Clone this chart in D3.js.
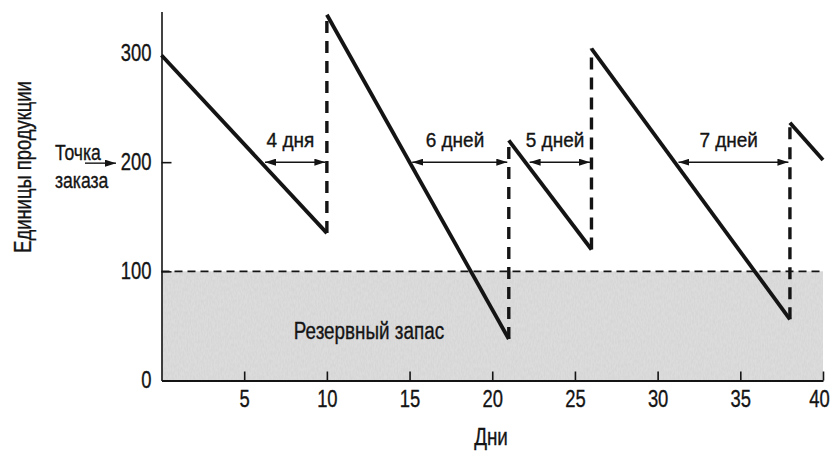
<!DOCTYPE html>
<html>
<head>
<meta charset="utf-8">
<script src="https://cdn.jsdelivr.net/npm/d3@7/dist/d3.min.js"></script>
<style>
  html, body { margin: 0; padding: 0; background: #fff; }
  svg { display: block; }
  text { font-family: "Liberation Sans", Arial, Helvetica, sans-serif; stroke: #141414; stroke-width: 0.35px; }
</style>
</head>
<body>
<svg id="chart" width="834" height="452"></svg>
<script>
// Inventory level over time (units), sawtooth: drop by demand, jump on delivery
const days  = [0, 10, 10, 21, 21, 26, 26, 38, 38, 40];
const units = [298, 135, 335, 38, 220, 120, 304, 56, 236, 202];

// Reorder point and safety stock levels
const reorderPoint = 200;
const safetyStock = 100;

// Lead-time intervals (from crossing the reorder point to delivery)
const leadFrom   = [6.2, 15.1, 22.2, 31.2];
const leadTo     = [10, 21, 26, 38];
const leadLabels = ["4 дня", "6 дней", "5 дней", "7 дней"];

// Axis ticks
const xTicks = [5, 10, 15, 20, 25, 30, 35, 40];
const yTicks = [0, 100, 200, 300];

const svg = d3.select("#chart");
const ink = "#141414";

const x = d3.scaleLinear().domain([0, 40]).range([161.5, 823]);
const y = d3.scaleLinear().domain([0, 338]).range([380.5, 11.5]);

// Squeeze a text horizontally to a condensed look
function condense(sel, k) {
  sel.each(function () {
    const w = this.getComputedTextLength();
    d3.select(this).attr("textLength", w * k).attr("lengthAdjust", "spacingAndGlyphs");
  });
}

const defs = svg.append("defs");
defs.append("marker")
  .attr("id", "arrowHead")
  .attr("markerUnits", "userSpaceOnUse")
  .attr("viewBox", "0 0 11 7")
  .attr("refX", 11).attr("refY", 3.5)
  .attr("markerWidth", 11).attr("markerHeight", 7)
  .attr("orient", "auto-start-reverse")
  .append("path").attr("d", "M0,0L11,3.5L0,7Z").attr("fill", ink);

// Grainy tint for the safety-stock band
const grain = defs.append("filter").attr("id", "grain")
  .attr("x", 0).attr("y", 0).attr("width", 1).attr("height", 1);
grain.append("feTurbulence").attr("type", "fractalNoise")
  .attr("baseFrequency", "0.7 0.25").attr("numOctaves", 2).attr("seed", 4).attr("result", "noise");
grain.append("feColorMatrix").attr("in", "noise").attr("type", "matrix")
  .attr("values", "0 0 0 0 0.6  0 0 0 0 0.6  0 0 0 0 0.6  0 0 0 0.9 -0.3").attr("result", "dots");
grain.append("feComposite").attr("in", "dots").attr("in2", "SourceGraphic").attr("operator", "in").attr("result", "clipped");
grain.append("feMerge").selectAll("feMergeNode").data(["SourceGraphic", "clipped"])
  .join("feMergeNode").attr("in", d => d);

// Safety stock band
svg.append("rect")
  .attr("x", x(0)).attr("y", y(safetyStock))
  .attr("width", x(40) - x(0)).attr("height", y(0) - y(safetyStock))
  .attr("fill", "#dcdcdc")
  .attr("filter", "url(#grain)");

svg.append("line")
  .attr("x1", x(0)).attr("x2", x(40))
  .attr("y1", y(safetyStock)).attr("y2", y(safetyStock))
  .attr("stroke", ink).attr("stroke-width", 1.8)
  .attr("stroke-dasharray", "8,5");

// Split the series into demand segments (solid) and deliveries (dashed)
const pts = days.map((d, i) => ({ d, u: units[i] }));
const segs = d3.pairs(pts);
const drops = segs.filter(([a, b]) => a.d !== b.d);
const jumps = segs.filter(([a, b]) => a.d === b.d);

svg.append("g").selectAll("line").data(jumps).join("line")
  .attr("x1", ([a]) => x(a.d)).attr("x2", ([, b]) => x(b.d))
  .attr("y1", ([a]) => y(a.u)).attr("y2", ([, b]) => y(b.u))
  .attr("stroke", ink).attr("stroke-width", 3.4)
  .attr("stroke-dasharray", "12,8");

svg.append("g").selectAll("line").data(drops).join("line")
  .attr("x1", ([a]) => x(a.d)).attr("x2", ([, b]) => x(b.d))
  .attr("y1", ([a]) => y(a.u)).attr("y2", ([, b]) => y(b.u))
  .attr("stroke", ink).attr("stroke-width", 3.8)
  .attr("stroke-linecap", "butt");

// Lead-time arrows and labels
const lead = leadFrom.map((f, i) => ({ f, t: leadTo[i], label: leadLabels[i] }));
const lg = svg.append("g");
lg.selectAll("line").data(lead).join("line")
  .attr("x1", d => x(d.f) + 1).attr("x2", d => x(d.t) - 1.5)
  .attr("y1", y(reorderPoint)).attr("y2", y(reorderPoint))
  .attr("stroke", ink).attr("stroke-width", 1.5)
  .attr("marker-start", "url(#arrowHead)")
  .attr("marker-end", "url(#arrowHead)");
lg.selectAll("text").data(lead).join("text")
  .attr("x", d => (x(d.f) + x(d.t)) / 2 - 5)
  .attr("y", y(reorderPoint) - 15)
  .attr("text-anchor", "middle")
  .attr("font-size", 20)
  .attr("fill", ink)
  .text(d => d.label)
  .call(condense, 0.95);

// Axes
const yAxis = svg.append("g")
  .attr("transform", `translate(${x(0)},0)`)
  .call(d3.axisLeft(y).tickValues(yTicks).tickSize(-10).tickSizeOuter(0).tickPadding(10));
const xAxis = svg.append("g")
  .attr("transform", `translate(0,${y(0)})`)
  .call(d3.axisBottom(x).tickValues(xTicks).tickSize(-9).tickSizeOuter(0).tickPadding(10));

[yAxis, xAxis].forEach(g => {
  g.attr("font-family", null).attr("font-size", null);
  g.selectAll("text").attr("font-size", 23).attr("fill", ink).call(condense, 0.8);
  g.selectAll("line").attr("stroke", ink).attr("stroke-width", 1.6);
});
yAxis.select(".domain").attr("stroke", ink).attr("stroke-width", 1.6);
xAxis.select(".domain").attr("stroke", ink).attr("stroke-width", 2.2);
yAxis.selectAll(".tick").filter(d => d === 0 || d === 300).select("line").remove();
// keep the last x label inside the frame
xAxis.selectAll(".tick").filter(d => d === 40).select("text").attr("x", -4);

// Titles and notes
svg.append("text")
  .attr("transform", "translate(31,167) rotate(-90)")
  .attr("text-anchor", "middle").attr("font-size", 23).attr("fill", ink)
  .text("Единицы продукции")
  .call(condense, 0.8);

svg.append("text")
  .attr("x", 491).attr("y", 445)
  .attr("text-anchor", "middle").attr("font-size", 23).attr("fill", ink)
  .text("Дни")
  .call(condense, 0.82);

svg.append("text")
  .attr("x", 369).attr("y", 339)
  .attr("text-anchor", "middle").attr("font-size", 23).attr("fill", ink)
  .text("Резервный запас")
  .call(condense, 0.82);

svg.append("text")
  .attr("x", 55).attr("y", 160)
  .attr("font-size", 22).attr("fill", ink)
  .text("Точка")
  .call(condense, 0.8);
svg.append("text")
  .attr("x", 55).attr("y", 188)
  .attr("font-size", 22).attr("fill", ink)
  .text("заказа")
  .call(condense, 0.8);

svg.append("line")
  .attr("x1", 85).attr("x2", 116)
  .attr("y1", y(reorderPoint) + 1).attr("y2", y(reorderPoint) + 1)
  .attr("stroke", ink).attr("stroke-width", 1.4)
  .attr("marker-end", "url(#arrowHead)");
</script>
</body>
</html>
